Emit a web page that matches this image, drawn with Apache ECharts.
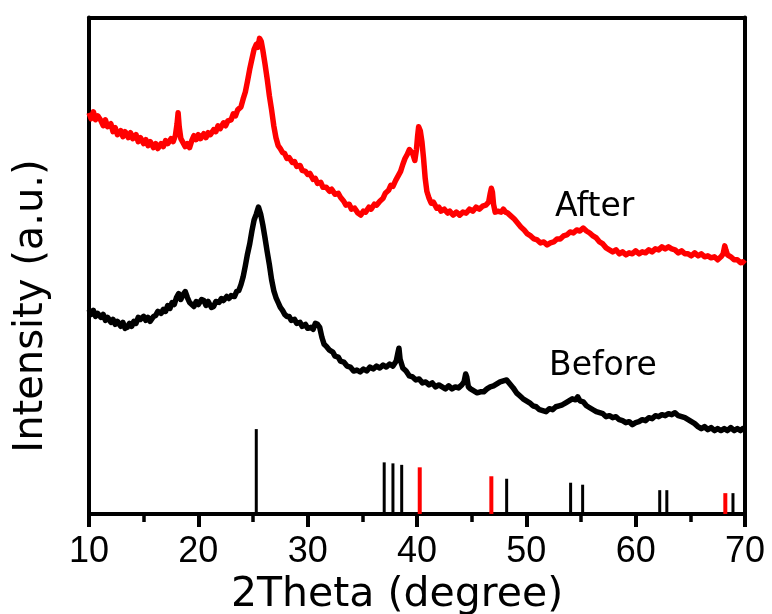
<!DOCTYPE html>
<html>
<head>
<meta charset="utf-8">
<script src="https://cdn.jsdelivr.net/npm/echarts@6/dist/echarts.min.js"></script>
<style>
  html, body { margin: 0; padding: 0; background: #fff; }
  #chart { width: 772px; height: 614px; }
</style>
</head>
<body>
<div id="chart"></div>
<script>
// XRD patterns: [2theta (deg), intensity (a.u., offset for stacking)]
const afterPattern = [
  [10.0,80.8],[10.2,79.6],[10.4,81.0],[10.6,79.4],[10.8,80.2],[11.1,79.2],[11.3,78.2],[11.5,79.4],[11.7,78.0],
  [12.0,78.6],[12.2,77.0],[12.4,77.8],[12.6,76.4],[12.9,77.2],[13.1,76.0],[13.3,77.0],[13.6,75.8],[13.8,76.8],
  [14.0,75.6],[14.3,76.4],[14.5,75.0],[14.7,75.8],[15.0,74.6],[15.2,75.4],[15.4,74.2],[15.6,75.0],[15.9,73.8],
  [16.1,74.6],[16.3,73.6],[16.6,74.6],[16.8,74.0],[17.0,75.2],[17.2,74.6],[17.5,75.6],[17.7,75.0],[17.9,76.2],
  [18.05,78.5],[18.15,80.8],[18.25,78.0],[18.4,75.6],[18.6,74.8],[18.8,74.0],[19.0,74.6],[19.2,73.8],[19.4,75.2],
  [19.6,76.2],[19.8,75.4],[20.0,76.4],[20.2,75.6],[20.5,76.6],[20.7,75.8],[20.9,76.8],[21.1,76.4],[21.4,77.4],
  [21.6,77.0],[21.8,78.2],[22.0,77.6],[22.3,78.8],[22.5,78.2],[22.7,79.2],[23.0,79.4],[23.2,80.6],[23.4,80.2],
  [23.6,81.4],[23.9,82.0],[24.1,83.6],[24.3,85.0],[24.5,87.2],[24.7,89.6],[24.9,91.6],[25.1,93.6],[25.3,94.6],
  [25.45,94.0],[25.6,95.8],[25.75,95.2],[25.9,93.4],[26.1,90.6],[26.3,87.6],[26.5,84.2],[26.7,81.4],[26.9,78.2],
  [27.1,75.8],[27.3,74.2],[27.5,73.6],[27.7,72.8],[27.9,72.6],[28.1,71.6],[28.3,71.8],[28.6,70.8],[28.8,71.0],
  [29.0,70.0],[29.3,70.2],[29.5,69.2],[29.8,69.0],[30.0,68.4],[30.2,68.6],[30.5,67.4],[30.7,67.6],[30.9,66.6],
  [31.2,66.8],[31.4,65.8],[31.7,65.8],[32.0,65.0],[32.2,65.4],[32.5,64.4],[32.8,64.6],[33.0,63.8],[33.3,63.0],
  [33.5,62.2],[33.8,62.4],[34.0,61.4],[34.3,61.6],[34.6,60.6],[34.85,60.2],[35.1,61.0],[35.3,60.8],[35.6,61.8],
  [35.8,61.4],[36.1,62.4],[36.3,62.2],[36.6,63.0],[36.9,63.6],[37.1,64.6],[37.4,65.2],[37.6,66.2],[37.8,66.0],
  [38.05,67.2],[38.3,68.2],[38.5,69.0],[38.7,70.4],[38.9,71.6],[39.1,72.4],[39.3,73.4],[39.45,73.8],[39.6,72.6],
  [39.8,71.2],[39.95,73.4],[40.05,76.0],[40.15,78.0],[40.3,77.2],[40.45,75.0],[40.6,71.6],[40.75,67.6],[40.9,65.0],
  [41.1,63.6],[41.3,62.6],[41.5,62.8],[41.8,61.6],[42.0,61.8],[42.2,61.0],[42.5,61.4],[42.8,60.6],[43.0,61.0],
  [43.3,60.2],[43.6,60.8],[43.9,60.2],[44.2,60.8],[44.5,60.6],[44.8,61.4],[45.1,61.0],[45.4,61.8],[45.7,61.4],
  [46.0,62.0],[46.3,62.2],[46.55,62.8],[46.7,64.6],[46.8,65.6],[46.9,64.8],[47.0,62.4],[47.15,60.8],[47.4,61.0],
  [47.7,60.8],[47.9,61.4],[48.1,60.8],[48.3,60.6],[48.6,60.0],[48.9,59.4],[49.2,58.6],[49.5,57.8],[49.8,57.2],
  [50.1,56.4],[50.4,56.0],[50.7,55.4],[51.0,55.2],[51.3,54.6],[51.6,54.8],[51.9,54.2],[52.2,54.6],[52.5,54.8],
  [52.8,55.4],[53.1,55.4],[53.4,56.0],[53.7,56.2],[54.0,56.8],[54.3,56.6],[54.6,57.2],[54.9,57.0],[55.2,57.6],
  [55.5,57.0],[55.8,56.6],[56.1,56.0],[56.4,55.6],[56.7,54.8],[57.0,54.4],[57.3,53.6],[57.6,53.2],[57.9,52.8],
  [58.2,53.2],[58.5,52.4],[58.8,52.8],[59.1,52.2],[59.4,52.6],[59.7,52.4],[60.0,53.0],[60.3,52.4],[60.6,52.8],
  [60.9,52.6],[61.2,53.2],[61.5,52.8],[61.8,53.4],[62.1,53.2],[62.4,53.8],[62.7,53.4],[63.0,53.8],[63.3,53.4],
  [63.6,53.2],[63.9,52.6],[64.2,53.0],[64.5,52.4],[64.8,52.4],[65.1,52.0],[65.4,52.6],[65.7,52.0],[66.0,52.4],
  [66.3,51.8],[66.6,52.0],[66.9,51.6],[67.2,51.8],[67.5,51.2],[67.8,51.8],[68.0,52.4],[68.15,54.0],[68.25,53.2],
  [68.4,52.2],[68.7,51.8],[69.0,51.2],[69.3,51.2],[69.6,50.6],[69.8,50.8],[70.0,50.4]
];

const beforePattern = [
  [10.0,41.2],[10.2,40.2],[10.4,41.0],[10.6,39.8],[10.8,40.4],[11.1,39.6],[11.3,40.2],[11.5,39.0],[11.7,39.6],
  [12.0,38.6],[12.2,39.2],[12.4,38.2],[12.6,38.8],[12.9,37.8],[13.1,38.6],[13.3,37.4],[13.5,37.6],[13.7,38.4],
  [13.9,37.8],[14.1,38.8],[14.3,38.4],[14.5,39.6],[14.7,39.2],[15.0,39.8],[15.2,39.0],[15.4,39.6],[15.6,38.8],
  [15.9,39.8],[16.1,40.0],[16.3,40.8],[16.6,40.4],[16.8,41.2],[17.0,40.8],[17.2,42.0],[17.4,41.4],[17.6,42.6],
  [17.8,42.2],[18.0,43.6],[18.2,44.4],[18.4,43.2],[18.6,44.2],[18.8,44.8],[19.0,43.6],[19.2,42.6],[19.4,42.2],
  [19.6,41.8],[19.8,42.8],[20.0,42.2],[20.3,43.2],[20.5,43.0],[20.7,42.0],[20.9,42.8],[21.2,41.6],[21.4,41.8],
  [21.6,42.8],[21.9,42.6],[22.1,43.4],[22.3,43.0],[22.6,43.8],[22.8,43.4],[23.0,44.0],[23.3,43.8],[23.5,44.8],
  [23.7,45.0],[23.9,46.2],[24.1,47.8],[24.3,50.0],[24.5,52.4],[24.7,54.4],[24.9,57.0],[25.1,59.2],[25.3,60.4],
  [25.5,61.8],[25.7,60.4],[25.9,58.2],[26.1,55.6],[26.3,52.8],[26.5,50.2],[26.7,47.2],[26.9,45.0],[27.1,43.6],
  [27.3,42.6],[27.5,41.6],[27.7,41.0],[27.9,40.2],[28.1,39.8],[28.3,39.8],[28.5,39.0],[28.8,39.2],[29.0,38.4],
  [29.3,38.6],[29.5,37.8],[29.8,38.2],[30.0,37.4],[30.3,37.6],[30.5,37.2],[30.7,38.4],[30.9,38.2],[31.1,37.6],
  [31.3,35.6],[31.5,34.2],[31.7,33.8],[32.0,33.0],[32.3,32.6],[32.5,31.8],[32.8,31.6],[33.0,30.8],[33.3,30.6],
  [33.6,29.8],[33.9,29.6],[34.2,28.8],[34.5,29.0],[34.8,28.6],[35.1,29.2],[35.4,28.8],[35.7,29.6],[36.0,29.2],
  [36.3,29.8],[36.6,29.4],[36.9,30.0],[37.2,29.6],[37.5,30.2],[37.8,29.8],[38.1,30.8],[38.25,32.4],[38.35,33.4],
  [38.45,31.2],[38.7,29.4],[39.0,28.8],[39.3,27.8],[39.6,27.6],[39.9,27.0],[40.2,27.2],[40.5,26.4],[40.8,26.6],
  [41.1,26.0],[41.4,26.4],[41.7,25.6],[42.0,26.0],[42.3,25.6],[42.6,25.2],[42.9,25.8],[43.2,25.2],[43.5,25.6],
  [43.8,25.4],[44.1,26.0],[44.3,26.6],[44.45,28.2],[44.55,27.6],[44.7,25.6],[44.9,25.2],[45.2,24.8],[45.5,24.4],
  [45.8,24.6],[46.1,24.6],[46.4,25.2],[46.7,25.6],[47.0,25.8],[47.3,26.2],[47.6,26.6],[47.9,26.8],[48.2,27.0],
  [48.5,26.2],[48.8,25.4],[49.1,24.4],[49.4,23.8],[49.7,23.2],[50.0,22.8],[50.3,22.4],[50.6,21.8],[50.9,21.6],
  [51.2,21.0],[51.5,20.8],[51.8,20.6],[52.1,21.2],[52.4,21.0],[52.7,21.6],[53.0,21.8],[53.3,22.0],[53.6,22.4],
  [53.9,22.8],[54.2,23.2],[54.5,23.0],[54.7,23.6],[54.9,22.8],[55.2,22.6],[55.5,21.8],[55.8,21.4],[56.1,21.0],
  [56.4,20.6],[56.7,20.4],[57.0,20.2],[57.3,19.6],[57.6,19.8],[57.9,19.4],[58.2,19.6],[58.5,19.0],[58.8,18.8],
  [59.1,18.4],[59.4,18.6],[59.7,18.0],[60.0,18.4],[60.3,18.6],[60.6,19.0],[60.9,18.8],[61.2,19.4],[61.5,19.2],
  [61.8,19.8],[62.1,19.6],[62.4,20.0],[62.7,19.8],[63.0,20.2],[63.3,20.0],[63.6,20.4],[63.9,19.8],[64.2,19.6],
  [64.5,19.4],[64.8,19.0],[65.1,18.6],[65.4,18.2],[65.7,17.6],[66.0,17.2],[66.3,17.6],[66.6,17.0],[66.9,17.4],
  [67.2,16.8],[67.5,17.2],[67.8,16.8],[68.1,17.2],[68.4,16.8],[68.7,17.4],[69.0,16.8],[69.3,17.2],[69.6,16.8],
  [69.8,17.2],[70.0,17.0]
];

// Reference stick patterns (peak position, relative height)
const anataseTheta  = [25.3, 37.0, 37.8, 38.6, 48.2, 54.05, 55.15, 62.2, 62.85, 68.9];
const anataseHeight = [17.1, 10.4, 10.2, 9.9, 7.1, 6.3, 5.9, 4.8, 4.8, 4.2];
const metalTheta    = [40.25, 46.8, 68.2];
const metalHeight   = [9.4, 7.6, 4.2];

const xTicks = { min: 10, max: 70, step: 10 };

const axisColor = '#000';
const axisWidth = 4;

function stickSeries(name, theta, height, color, width) {
  return {
    name: name,
    type: 'custom',
    xAxisIndex: 0,
    yAxisIndex: 0,
    data: theta.map(function (t, i) { return [t, height[i]]; }),
    renderItem: function (params, api) {
      const base = api.coord([api.value(0), 0]);
      const top = api.coord([api.value(0), api.value(1)]);
      return {
        type: 'line',
        shape: { x1: base[0], y1: base[1], x2: top[0], y2: top[1] },
        style: { stroke: color, lineWidth: width }
      };
    },
    z: 3
  };
}

const chart = echarts.init(document.getElementById('chart'), null, { renderer: 'canvas' });

chart.setOption({
  animation: false,
  backgroundColor: '#fff',
  grid: { left: 89, right: 27, top: 17.5, bottom: 100, containLabel: false, outerBoundsMode: 'none' },
  xAxis: [
    {
      type: 'value',
      position: 'bottom',
      min: xTicks.min, max: xTicks.max, interval: xTicks.step,
      axisLine: { show: true, onZero: false, lineStyle: { color: axisColor, width: axisWidth } },
      axisTick: { show: true, inside: false, length: 13, lineStyle: { color: axisColor, width: 4 } },
      minorTick: { show: true, splitNumber: 2, length: 8, lineStyle: { color: axisColor, width: 3.5 } },
      splitLine: { show: false },
      minorSplitLine: { show: false },
      axisLabel: { color: '#000', fontSize: 36, fontFamily: 'Liberation Sans', margin: 20 },
      name: '2Theta (degree)',
      nameLocation: 'middle',
      nameGap: 53,
      nameTextStyle: { color: '#000', fontSize: 41, fontFamily: 'DejaVu Sans', padding: [0, 40, 0, 0] }
    },
    {
      type: 'value',
      position: 'top',
      min: xTicks.min, max: xTicks.max, interval: xTicks.step,
      axisLine: { show: true, onZero: false, lineStyle: { color: axisColor, width: axisWidth } },
      axisTick: { show: false },
      axisLabel: { show: false },
      splitLine: { show: false }
    }
  ],
  yAxis: [
    {
      type: 'value',
      position: 'left',
      min: 0, max: 100,
      axisLine: { show: true, onZero: false, lineStyle: { color: axisColor, width: axisWidth } },
      axisTick: { show: false },
      axisLabel: { show: false },
      splitLine: { show: false }
    },
    {
      type: 'value',
      position: 'right',
      min: 0, max: 100,
      axisLine: { show: true, onZero: false, lineStyle: { color: axisColor, width: axisWidth } },
      axisTick: { show: false },
      axisLabel: { show: false },
      splitLine: { show: false }
    }
  ],
  graphic: [
    {
      type: 'text',
      x: 32, y: 306,
      rotation: Math.PI / 2,
      style: {
        text: 'Intensity (a.u.)',
        fontSize: 40, fontFamily: 'DejaVu Sans', fill: '#000',
        align: 'center', verticalAlign: 'middle'
      }
    },
    {
      type: 'text',
      x: 555, y: 207,
      style: {
        text: 'After',
        fontSize: 33, fontFamily: 'DejaVu Sans', fill: '#000',
        align: 'left', verticalAlign: 'middle'
      }
    },
    {
      type: 'text',
      x: 549, y: 366,
      style: {
        text: 'Before',
        fontSize: 33, fontFamily: 'DejaVu Sans', fill: '#000',
        align: 'left', verticalAlign: 'middle'
      }
    }
  ],
  series: [
    {
      name: 'Before',
      type: 'line',
      xAxisIndex: 0, yAxisIndex: 0,
      data: beforePattern,
      showSymbol: false,
      lineStyle: { color: '#000', width: 5.5, join: 'round' },
      z: 2
    },
    {
      name: 'After',
      type: 'line',
      xAxisIndex: 0, yAxisIndex: 0,
      data: afterPattern,
      showSymbol: false,
      lineStyle: { color: '#ff0000', width: 5.5, join: 'round' },
      z: 2
    },
    stickSeries('Anatase', anataseTheta, anataseHeight, '#000', 3),
    stickSeries('Metal', metalTheta, metalHeight, '#ff0000', 4)
  ]
});
</script>
</body>
</html>
